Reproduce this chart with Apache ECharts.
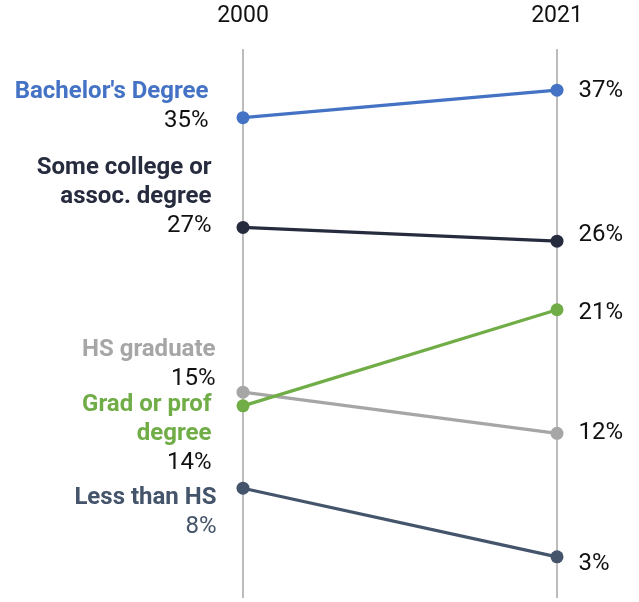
<!DOCTYPE html>
<html>
<head>
<meta charset="utf-8">
<script src="https://cdn.jsdelivr.net/npm/echarts@6/dist/echarts.min.js"></script>
<style>
  html, body { margin: 0; padding: 0; background: #fff; }
  #chart { width: 639px; height: 602px; }
</style>
</head>
<body>
<div id="chart"></div>
<script>
// Educational attainment shares, 2000 vs 2021
const years = ['2000', '2021'];
const groups = ["Bachelor's Degree", 'Some college or\nassoc. degree', 'HS graduate', 'Grad or prof\ndegree', 'Less than HS'];
const share2000 = [35, 27, 15, 14, 8];
const share2021 = [37, 26, 12, 21, 3];

const colors = ['#4472c4', '#262b3e', '#a6a6a6', '#70ad47', '#44546a'];
// label nudges [left dx, left dy, right dy]
const nudges = [
  [-2, -11, 1],
  [1, -30, -6],
  [5, -28, 0],
  [1, 28, 3],
  [6, 24, 7]
];
const valueColors = ['#111', '#111', '#111', '#111', '#44546a'];

const series = groups.map((g, i) => {
  const lines = g.split('\n');
  return {
    type: 'line',
    name: g,
    data: [
      {
        value: share2000[i],
        label: {
          show: true,
          position: 'left',
          distance: 26,
          offset: [nudges[i][0], nudges[i][1]],
          align: 'right',
          formatter: p => lines.map(l => '{n|' + l + '}').join('\n') + '\n{v|' + p.value + '%}',
          rich: {
            n: { fontFamily: 'Roboto', fontWeight: 'bold', fontSize: 24, color: colors[i], lineHeight: 29, align: 'right' },
            v: { fontFamily: 'Roboto', fontSize: 24, color: valueColors[i], lineHeight: 29, align: 'right' }
          }
        }
      },
      {
        value: share2021[i],
        label: {
          show: true,
          position: 'right',
          distance: 15,
          offset: [0, nudges[i][2]],
          formatter: p => p.value + '%',
          fontFamily: 'Roboto',
          fontSize: 24,
          color: '#111'
        }
      }
    ],
    symbol: 'circle',
    symbolSize: 13,
    lineStyle: { color: colors[i], width: 3.2 },
    itemStyle: { color: colors[i] },
    z: 2 + i
  };
});

const chart = echarts.init(document.getElementById('chart'), null, { renderer: 'canvas' });
chart.setOption({
  animation: false,
  backgroundColor: '#fff',
  grid: { left: 243, right: 82, top: 49, bottom: 4 },
  xAxis: {
    type: 'category',
    data: years,
    boundaryGap: false,
    position: 'top',
    axisLine: { show: false },
    axisTick: { show: false },
    axisLabel: { fontFamily: 'Roboto', fontSize: 23, color: '#111', margin: 21 },
    splitLine: { show: true, lineStyle: { color: '#a6a6a6', width: 1.5 } }
  },
  yAxis: {
    type: 'value',
    min: 0,
    max: 40,
    show: false
  },
  series: series
});
</script>
</body>
</html>
